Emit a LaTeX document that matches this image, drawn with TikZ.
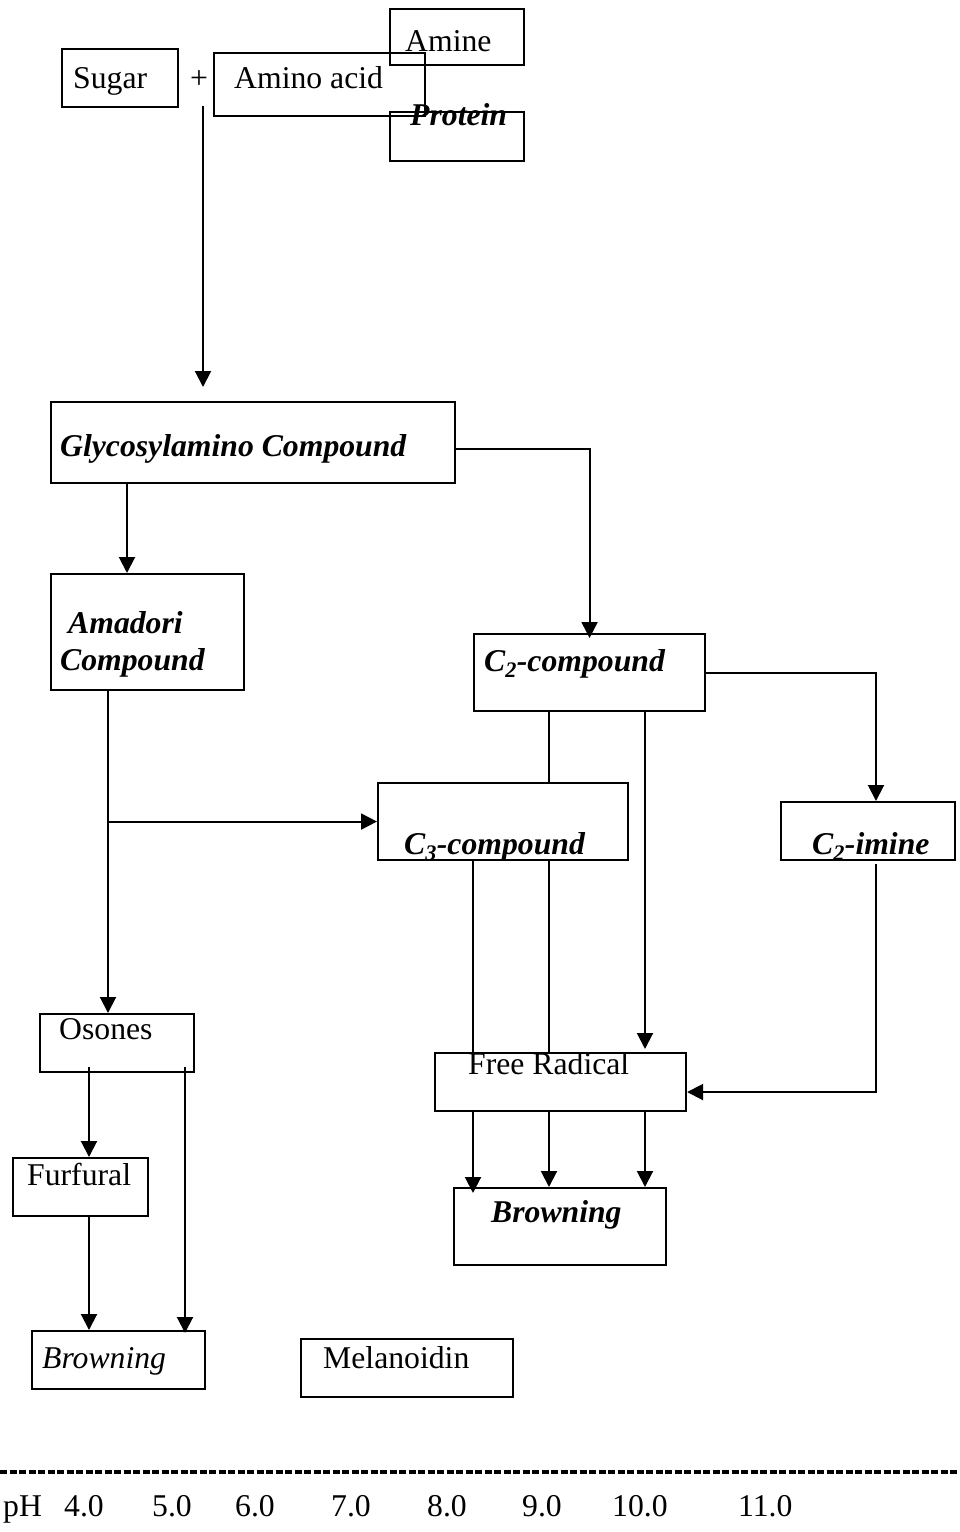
\documentclass[tikz,border=0pt]{standalone}
\usepackage{fontspec}
\setmainfont{Liberation Serif}
\usetikzlibrary{arrows.meta}
\begin{document}
\begin{tikzpicture}[x=1pt,y=-1pt,
  box/.style={draw, line width=2.1pt, inner sep=0pt, anchor=north west},
  txt/.style={anchor=base west, inner sep=0pt, font=\fontsize{31.7}{36}\selectfont},
  bi/.style={anchor=base west, inner sep=0pt, font=\fontsize{31.7}{36}\selectfont\bfseries\itshape},
  it/.style={anchor=base west, inner sep=0pt, font=\fontsize{31.7}{36}\selectfont\itshape},
  conn/.style={line width=2pt},
  arr/.style={conn, -{Triangle[length=16pt,width=16pt]}}]
\useasboundingbox (0,0) rectangle (960,1532);
% boxes
\node[box, minimum width=116pt, minimum height=58pt] (sugar) at (61,48) {};
\node[box, minimum width=211pt, minimum height=63pt] (amino) at (213,52) {};
\node[box, minimum width=134pt, minimum height=56pt] (amine) at (389,8) {};
\node[box, minimum width=134pt, minimum height=49pt] (protein) at (389,111) {};
\node[box, minimum width=404pt, minimum height=81pt] (glyco) at (50,401) {};
\node[box, minimum width=193pt, minimum height=116pt] (amadori) at (50,573) {};
\node[box, minimum width=231pt, minimum height=77pt] (c2) at (473,633) {};
\node[box, minimum width=174pt, minimum height=58pt] (c2imine) at (780,801) {};
\node[box, minimum width=250pt, minimum height=77pt] (c3) at (377,782) {};
\node[box, minimum width=154pt, minimum height=58pt] (osones) at (39,1013) {};
\node[box, minimum width=135pt, minimum height=58pt] (furfural) at (12,1157) {};
\node[box, minimum width=251pt, minimum height=58pt] (fr) at (434,1052) {};
\node[box, minimum width=212pt, minimum height=77pt] (browningR) at (453,1187) {};
\node[box, minimum width=173pt, minimum height=58pt] (browningL) at (31,1330) {};
\node[box, minimum width=212pt, minimum height=58pt] (melanoidin) at (300,1338) {};
% texts
\node[txt] (tsugar) at (73,88) {Sugar};
\node[txt] (tplus) at (190,88) {+};
\node[txt] (tamino) at (234,88) {Amino acid};
\node[txt] (tamine) at (405,51) {Amine};
\node[bi] (tprotein) at (410,125) {Protein};
\node[bi] (tglyco) at (60,456) {Glycosylamino Compound};
\node[bi] (tamadori) at (68,633) {Amadori};
\node[bi] (tcompound) at (60,670) {Compound};
\node[bi] (tc2) at (484,671) {C\textsubscript{2}-compound};
\node[bi] (tc3) at (404,854) {C\textsubscript{3}-compound};
\node[bi] (tc2imine) at (812,854) {C\textsubscript{2}-imine};
\node[txt] (tosones) at (59,1039) {Osones};
\node[txt] (tfr) at (468,1074) {Free Radical};
\node[txt] (tfurfural) at (27,1185) {Furfural};
\node[bi] (tbrowningR) at (491,1222) {Browning};
\node[it] (tbrowningL) at (42,1368) {Browning};
\node[txt] (tmelanoidin) at (323,1368) {Melanoidin};
% column coordinates
\coordinate (colA) at (127,0);
\coordinate (colC) at (876,0);
\coordinate (colD) at (108,0);
\coordinate (colE) at (549,0);
\coordinate (colF) at (645,0);
\coordinate (colG) at (473,0);
\coordinate (colH) at (89,0);
\coordinate (colI) at (185,0);
\coordinate (plusTop) at (203,106);
\coordinate (plusEnd) at (203,387);
% connectors
\draw[arr] (plusTop) -- (plusEnd);
\draw[arr] ([yshift=-6pt]glyco.east) -| ([yshift=-5pt]c2.north);
\draw[arr] (colA |- glyco.south) -- (colA |- amadori.north);
\draw[arr] (c2.east) -| (colC |- c2imine.north);
\draw[conn] (colE |- c2.south) -- (colE |- c3.north);
\draw[arr] (colF |- c2.south) -- ([yshift=3pt]colF |- fr.north);
\draw[arr] (colD |- amadori.south) -- (colD |- osones.north);
\draw[arr] (colD |- c3.west) -- (c3.west);
\draw[conn] (colG |- c3.south) -- (colG |- fr.north);
\draw[conn] (colE |- c3.south) -- (colE |- fr.north);
\draw[arr] ([yshift=-3pt]colC |- c2imine.south) |- ([yshift=-10pt]fr.east);
\draw[arr] (colG |- fr.south) -- ([yshift=-6pt]colG |- browningR.north);
\draw[arr] (colE |- fr.south) -- (colE |- browningR.north);
\draw[arr] (colF |- fr.south) -- (colF |- browningR.north);
\draw[arr] ([yshift=6pt]colH |- osones.south) -- (colH |- furfural.north);
\draw[arr] ([yshift=6pt]colI |- osones.south) -- ([yshift=-3pt]colI |- browningL.north);
\draw[arr] (colH |- furfural.south) -- (colH |- browningL.north);
% pH scale
\coordinate (dl) at (0,1472);
\coordinate (dr) at (960,1472);
\draw[line width=3.2pt, dash pattern=on 7pt off 2.5pt] (dl) -- (dr);
\node[txt] (ph) at (3,1516) {pH};
\node[txt] (ph4) at (64,1516) {4.0};
\node[txt] (ph5) at (152,1516) {5.0};
\node[txt] (ph6) at (235,1516) {6.0};
\node[txt] (ph7) at (331,1516) {7.0};
\node[txt] (ph8) at (427,1516) {8.0};
\node[txt] (ph9) at (522,1516) {9.0};
\node[txt] (ph10) at (612,1516) {10.0};
\node[txt] (ph11) at (738,1516) {11.0};
\end{tikzpicture}
\end{document}
